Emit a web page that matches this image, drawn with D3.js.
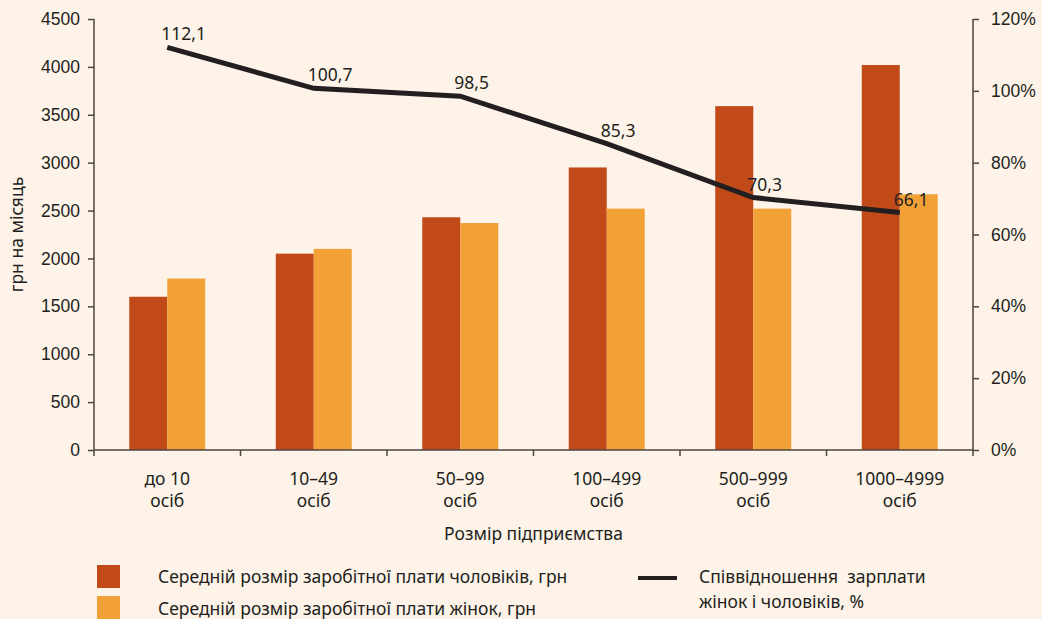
<!DOCTYPE html>
<html>
<head>
<meta charset="utf-8">
<script src="https://cdn.jsdelivr.net/npm/d3@7"></script>
<style>
  body { margin: 0; background: #fdf3e8; }
  svg { display: block; font-family: "Noto Sans", sans-serif; }
  .axis-text { font-size: 17.5px; fill: #231f20; }
  .domain, .tick line { stroke: #4e4542; stroke-width: 1.5px; }
</style>
</head>
<body>
<svg id="chart"></svg>
<script>
const categories = ["до 10|осіб", "10–49|осіб", "50–99|осіб", "100–499|осіб", "500–999|осіб", "1000–4999|осіб"];
const menWage = [1600, 2050, 2430, 2950, 3590, 4020];
const womenWage = [1790, 2100, 2370, 2520, 2520, 2670];
const ratio = [112.1, 100.7, 98.5, 85.3, 70.3, 66.1];
const leftTicks = [0, 500, 1000, 1500, 2000, 2500, 3000, 3500, 4000, 4500];
const rightTicks = [0, 20, 40, 60, 80, 100, 120];

const width = 1042;
const height = 619;
const menColor = "#c24a18";
const womenColor = "#f2a137";
const lineColor = "#231f20";

const margin = { left: 94, right: 69, top: 19, bottom: 169 };
const plotW = width - margin.left - margin.right;
const plotH = height - margin.top - margin.bottom;

const svg = d3.select("#chart").attr("width", width).attr("height", height);
svg.append("rect").attr("width", width).attr("height", height).attr("fill", "#fdf3e8");

const g = svg.append("g").attr("transform", `translate(${margin.left},${margin.top})`);

const x = d3.scaleBand().domain(categories).range([0, plotW]);
const yL = d3.scaleLinear().domain([0, 4500]).range([plotH, 0]);
const yR = d3.scaleLinear().domain([0, 120]).range([plotH, 0]);
const barW = 38;

// bars
const groups = g.append("g").selectAll("g")
  .data(categories)
  .join("g")
  .attr("transform", (d) => `translate(${x(d) + x.bandwidth() / 2},0)`);
groups.append("rect")
  .attr("x", -barW)
  .attr("y", (d, i) => yL(menWage[i]))
  .attr("width", barW)
  .attr("height", (d, i) => plotH - yL(menWage[i]))
  .attr("fill", menColor);
groups.append("rect")
  .attr("x", 0)
  .attr("y", (d, i) => yL(womenWage[i]))
  .attr("width", barW)
  .attr("height", (d, i) => plotH - yL(womenWage[i]))
  .attr("fill", womenColor);

// left axis
const leftAxis = g.append("g")
  .call(d3.axisLeft(yL).tickValues(leftTicks).tickSize(6).tickPadding(8).tickFormat(d3.format("d")));
leftAxis.selectAll("text").attr("class", "axis-text");
leftAxis.select(".domain").attr("d", `M0,0V${plotH + 6}`);

// right axis
const rightAxis = g.append("g")
  .attr("transform", `translate(${plotW},0)`)
  .call(d3.axisRight(yR).tickValues(rightTicks).tickSize(6).tickPadding(12).tickFormat((d) => d + "%"));
rightAxis.selectAll("text").attr("class", "axis-text");
rightAxis.select(".domain").attr("d", `M0,0V${plotH + 6}`);

// bottom axis: ticks at band boundaries
const bottom = g.append("g").attr("transform", `translate(0,${plotH})`);
bottom.append("path").attr("class", "domain").attr("d", `M0,0H${plotW}`);
bottom.selectAll("line")
  .data(categories.slice(1))
  .join("line")
  .attr("x1", (d) => x(d)).attr("x2", (d) => x(d))
  .attr("y1", 0).attr("y2", 6)
  .attr("stroke", "#4e4542").attr("stroke-width", 1.5);
const catText = bottom.selectAll("text.cat")
  .data(categories)
  .join("text")
  .attr("class", "cat axis-text")
  .attr("text-anchor", "middle")
  .attr("x", (d) => x(d) + x.bandwidth() / 2);
catText.selectAll("tspan")
  .data((d) => d.split("|"))
  .join("tspan")
  .attr("x", function () { return d3.select(this.parentNode).attr("x"); })
  .attr("y", (d, i) => 35 + i * 22)
  .text((d) => d);

// axis titles
g.append("text")
  .attr("class", "axis-text")
  .attr("text-anchor", "middle")
  .attr("x", plotW / 2)
  .attr("y", plotH + 90)
  .text("Розмір підприємства");
svg.append("text")
  .attr("class", "axis-text")
  .attr("text-anchor", "middle")
  .attr("transform", `translate(23,${margin.top + plotH / 2}) rotate(-90)`)
  .text("грн на місяць");

// ratio line
const line = d3.line()
  .x((d, i) => x(categories[i]) + x.bandwidth() / 2)
  .y((d) => yR(d));
g.append("path")
  .datum(ratio)
  .attr("d", line)
  .attr("fill", "none")
  .attr("stroke", lineColor)
  .attr("stroke-width", 5);
g.append("g").selectAll("text")
  .data(ratio)
  .join("text")
  .attr("class", "axis-text")
  .attr("x", (d, i) => x(categories[i]) + x.bandwidth() / 2 - 6)
  .attr("y", (d) => yR(d) - 7)
  .text((d) => d.toFixed(1).replace(".", ","));

// legend
const legend = svg.append("g");
const legendItems = [
  { color: menColor, label: "Середній розмір заробітної плати чоловіків, грн" },
  { color: womenColor, label: "Середній розмір заробітної плати жінок, грн" },
];
legend.selectAll("rect")
  .data(legendItems)
  .join("rect")
  .attr("x", 97)
  .attr("y", (d, i) => 565 + i * 31)
  .attr("width", 23)
  .attr("height", 23)
  .attr("fill", (d) => d.color);
legend.selectAll("text.bar-label")
  .data(legendItems)
  .join("text")
  .attr("class", "bar-label axis-text")
  .attr("x", 158)
  .attr("y", (d, i) => 583 + i * 32)
  .text((d) => d.label);
legend.append("line")
  .attr("x1", 638).attr("x2", 677)
  .attr("y1", 578).attr("y2", 578)
  .attr("stroke", lineColor)
  .attr("stroke-width", 4);
const lineLabel = legend.append("text")
  .attr("class", "axis-text")
  .attr("xml:space", "preserve")
  .style("white-space", "pre");
lineLabel.append("tspan").attr("x", 699).attr("y", 583).text("Співвідношення  зарплати");
lineLabel.append("tspan").attr("x", 699).attr("y", 608).text("жінок і чоловіків, %");
</script>
</body>
</html>
